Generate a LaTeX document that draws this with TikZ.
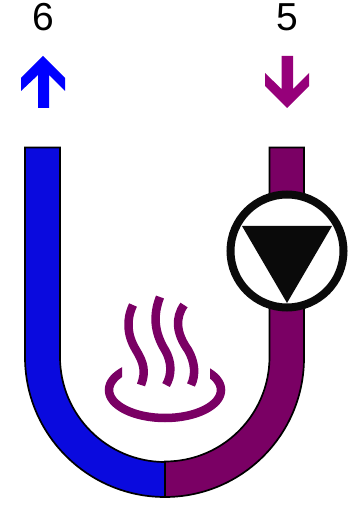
\documentclass[tikz,border=0pt]{standalone}
\usepackage{fontspec}
\setmainfont{Liberation Sans}
\definecolor{pipeblue}{RGB}{10,10,222}
\definecolor{pipepurple}{RGB}{122,0,100}
\definecolor{arrowblue}{RGB}{0,0,255}
\definecolor{arrowpurple}{RGB}{150,0,122}
\definecolor{pumpblack}{RGB}{10,10,10}
\tikzset{
  pipeline/.style={draw=black,line width=1.7pt,line join=miter},
  steam/.style={draw=pipepurple,line width=8.5pt,line cap=butt},
  digit/.style={inner sep=0pt,text=black,anchor=base,font=\fontsize{39}{39}\selectfont}
}
\begin{document}
\begin{tikzpicture}[x=1pt,y=-1pt]
\useasboundingbox (0,0) rectangle (360,510);
% labels
\node[digit] (six) at (43.5,30.3) {6};
\node[digit] (five) at (287.5,30.3) {5};
% arrows
\fill[arrowblue] (43,56) -- (65,78) -- (65,91) -- (49,75) -- (49,108) -- (38,108) -- (38,75) -- (21,91) -- (21,78) -- cycle;
\fill[arrowpurple] (287,108) -- (309,86) -- (309,73) -- (293,89) -- (293,56) -- (281.5,56) -- (281.5,89) -- (265,73) -- (265,86) -- cycle;
% pipes
\path[pipeline,fill=pipeblue] (25,147.5) -- (60,147.5) -- (60,357) arc[start angle=180,end angle=90,radius=105] -- (165,497) arc[start angle=90,end angle=180,radius=140] -- cycle;
\path[pipeline,fill=pipepurple] (304,147.5) -- (269.5,147.5) -- (269.5,357) arc[start angle=0,end angle=90,radius=104.5] -- (165,497) arc[start angle=90,end angle=0,radius=139] -- cycle;
% pump
\draw[pumpblack,line width=8pt,fill=white] (287,251) circle[radius=56.5];
\fill[pumpblack] (242,226) -- (332,226) -- (287,303) -- cycle;
% steam
\draw[steam] (133,305) .. controls (126,320) and (127,335) .. (136,350) .. controls (144,363) and (146,372) .. (141,385);
\draw[steam] (160,297) .. controls (153,315) and (154,332) .. (165,350) .. controls (172,362) and (172,375) .. (166,385);
\draw[steam] (184,305) .. controls (175,318) and (176,333) .. (188,350) .. controls (195,362) and (196,375) .. (191,385);
\begin{scope}
\clip (100,355) -- (122,355) -- (122,385) -- (210,385) -- (210,355) -- (232,355) -- (232,430) -- (100,430) -- cycle;
\draw[steam] (165,390) ellipse[x radius=56,y radius=28];
\end{scope}
\end{tikzpicture}
\end{document}
